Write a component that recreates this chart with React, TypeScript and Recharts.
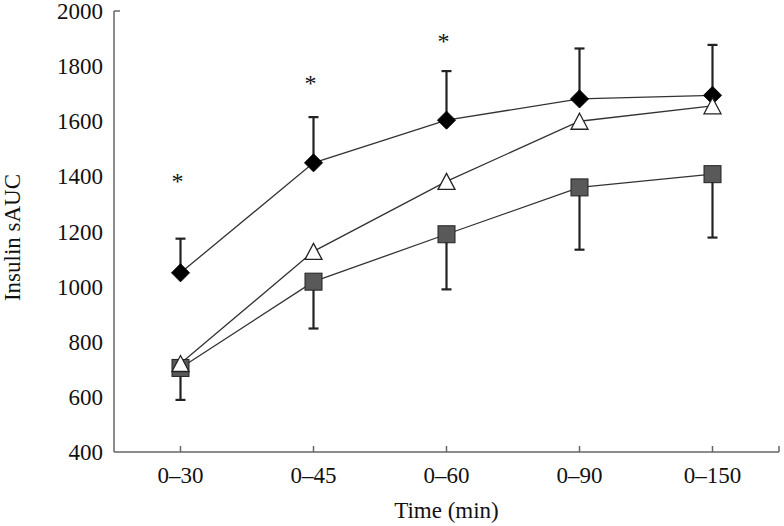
import { LineChart, Line, XAxis, YAxis, ErrorBar, Label } from 'recharts'

const CATEGORIES = ['0–30', '0–45', '0–60', '0–90', '0–150']
const DIAMOND = [1050, 1449, 1604, 1681, 1694]
const DIAMOND_SD = [124, 166, 178, 183, 183]
const SQUARE = [705, 1018, 1190, 1360, 1408]
const SQUARE_SD = [116, 170, 200, 226, 230]
const TRIANGLE = [721, 1128, 1382, 1600, 1656]
const STARS: (number | null)[] = [1393, 1749, 1901, null, null]
const Y_TICKS = [400, 600, 800, 1000, 1200, 1400, 1600, 1800, 2000]
const X_TICKS = [1, 2, 3, 4, 5, 5.5]

const FONT = '"Liberation Serif", "Times New Roman", serif'
const FS = 23
const AXIS = '#666'
const INK = '#222'

const data = CATEGORIES.map((c, i) => ({
  x: i + 1,
  cat: c,
  diamond: DIAMOND[i],
  diamondErr: [0, DIAMOND_SD[i]],
  square: SQUARE[i],
  squareErr: [SQUARE_SD[i], 0],
  triangle: TRIANGLE[i],
  star: STARS[i],
}))

function XTick({ x, y, payload }: any) {
  const v = payload.value as number
  const label = Number.isInteger(v) ? CATEGORIES[v - 1] : ''
  return (
    <g>
      <line x1={x} y1={y} x2={x} y2={y - 6} stroke={AXIS} strokeWidth={1.5} />
      {label && (
        <text x={x} y={y + 31} textAnchor="middle" fontFamily={FONT} fontSize={FS} fill="#111">
          {label}
        </text>
      )}
    </g>
  )
}

function YTick({ x, y, payload }: any) {
  const v = payload.value as number
  return (
    <g>
      {v === 2000 && <line x1={x} y1={y} x2={x + 6} y2={y} stroke={AXIS} strokeWidth={1.5} />}
      <text x={x - 11} y={y + 8} textAnchor="end" fontFamily={FONT} fontSize={FS} fill="#111">
        {v}
      </text>
    </g>
  )
}

const diamondDot = ({ cx, cy, index }: any) => (
  <polygon
    key={`d${index}`}
    points={`${cx},${cy - 9} ${cx + 9},${cy} ${cx},${cy + 9} ${cx - 9},${cy}`}
    fill="#000"
    stroke="#000"
  />
)

const squareDot = ({ cx, cy, index }: any) => (
  <rect key={`s${index}`} x={cx - 8.5} y={cy - 8.5} width={17} height={17} fill="#595959" stroke={INK} strokeWidth={1} />
)

const triangleDot = ({ cx, cy, index }: any) => (
  <polygon
    key={`t${index}`}
    points={`${cx},${cy - 8} ${cx + 8.5},${cy + 8} ${cx - 8.5},${cy + 8}`}
    fill="#fff"
    stroke={INK}
    strokeWidth={1.3}
  />
)

const starDot = ({ cx, cy, index, value }: any) =>
  value == null ? (
    <g key={`a${index}`} />
  ) : (
    <text key={`a${index}`} x={cx - 3} y={cy + 11} textAnchor="middle" fontFamily={FONT} fontSize={24} fill="#111">
      *
    </text>
  )

export default function App() {
  return (
    <div style={{ position: 'absolute', left: 0, top: 0, background: '#fff' }}>
      <LineChart width={784} height={526} data={data} margin={{ top: 11, right: 5, bottom: 0, left: 0 }}>
        <XAxis
          dataKey="x"
          type="number"
          domain={[0.5, 5.5]}
          ticks={X_TICKS}
          interval={0}
          height={74}
          tickSize={0}
          tickMargin={0}
          tickLine={false}
          axisLine={{ stroke: AXIS, strokeWidth: 1.5 }}
          tick={<XTick />}
        >
          <Label
            content={({ viewBox }: any) => (
              <text
                x={viewBox.x + viewBox.width / 2}
                y={viewBox.y + 66}
                textAnchor="middle"
                fontFamily={FONT}
                fontSize={FS}
                fill="#111"
              >
                Time (min)
              </text>
            )}
          />
        </XAxis>
        <YAxis
          type="number"
          domain={[400, 2000]}
          ticks={Y_TICKS}
          interval={0}
          width={114}
          tickSize={0}
          tickMargin={0}
          tickLine={false}
          axisLine={{ stroke: AXIS, strokeWidth: 1.5 }}
          tick={<YTick />}
        >
          <Label
            content={({ viewBox }: any) => {
              const cx = viewBox.x + 12
              const cy = viewBox.y + viewBox.height / 2 + 6
              return (
                <text
                  x={cx}
                  y={cy}
                  transform={`rotate(-90 ${cx} ${cy})`}
                  textAnchor="middle"
                  dominantBaseline="central"
                  fontFamily={FONT}
                  fontSize={FS}
                  fill="#111"
                >
                  Insulin sAUC
                </text>
              )
            }}
          />
        </YAxis>
        <Line dataKey="diamond" stroke="#333" strokeWidth={1.3} dot={diamondDot} activeDot={false} isAnimationActive={false}>
          <ErrorBar dataKey="diamondErr" direction="y" width={5} strokeWidth={2.2} stroke={INK} />
        </Line>
        <Line dataKey="square" stroke="#333" strokeWidth={1.3} dot={squareDot} activeDot={false} isAnimationActive={false}>
          <ErrorBar dataKey="squareErr" direction="y" width={5} strokeWidth={2.2} stroke={INK} />
        </Line>
        <Line dataKey="triangle" stroke="#333" strokeWidth={1.3} dot={triangleDot} activeDot={false} isAnimationActive={false} />
        <Line dataKey="star" stroke="none" dot={starDot} activeDot={false} isAnimationActive={false} />
      </LineChart>
    </div>
  )
}
